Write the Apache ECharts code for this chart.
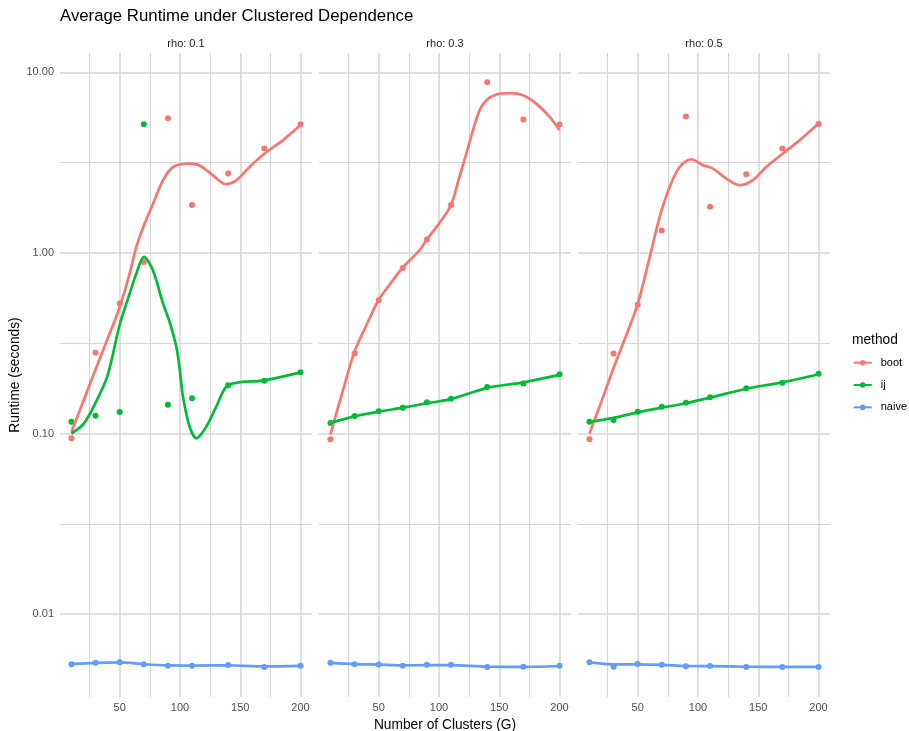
<!DOCTYPE html>
<html>
<head>
<meta charset="utf-8">
<script src="https://cdn.jsdelivr.net/npm/echarts@6/dist/echarts.min.js"></script>
<style>
html,body{margin:0;padding:0;background:#fff;}
#chart{width:909px;height:731px;}
</style>
</head>
<body>
<div id="chart"></div>
<script>
// ---------- data ----------
const clusters = [10, 30, 50, 70, 90, 110, 140, 170, 200];
const rhoLabels = ['rho: 0.1', 'rho: 0.3', 'rho: 0.5'];
const methods = ['boot', 'ij', 'naive'];
const yMajorTicks = [0.01, 0.1, 1, 10];
const yMinorTicks = [0.0316227766, 0.316227766, 3.16227766];
const xMajorTicks = [50, 100, 150, 200];
const xMinorTicks = [25, 75, 125, 175];

// observed mean runtimes (seconds)
const boot01  = [0.094, 0.281, 0.525, 0.89, 5.56, 1.84, 2.75, 3.78, 5.15];
const ij01    = [0.116, 0.1255, 0.1315, 5.15, 0.1444, 0.1567, 0.185, 0.196, 0.218];
const naive01 = [0.00528, 0.00538, 0.00541, 0.00527, 0.00518, 0.00518, 0.00522, 0.00509, 0.00518];
const boot03  = [0.093, 0.277, 0.547, 0.826, 1.186, 1.84, 8.8, 5.47, 5.14];
const ij03    = [0.1145, 0.1248, 0.133, 0.139, 0.149, 0.1556, 0.181, 0.189, 0.213];
const naive03 = [0.00538, 0.00528, 0.00526, 0.00518, 0.00524, 0.00524, 0.00509, 0.00511, 0.00518];
const boot05  = [0.093, 0.277, 0.517, 1.33, 5.69, 1.80, 2.73, 3.79, 5.18];
const ij05    = [0.116, 0.1186, 0.132, 0.1406, 0.148, 0.159, 0.178, 0.191, 0.214];
const naive05 = [0.00542, 0.00511, 0.0053, 0.00524, 0.00515, 0.00516, 0.00509, 0.00509, 0.00509];

// smoothed (loess) curves
const bootFit01G = [10, 20, 30, 40, 50, 58.3, 63.8, 70.1, 77.6, 85.9, 94.2, 108, 116.3, 127.3, 137.8, 146.7, 157.7, 170.2, 185.3, 200];
const bootFit01  = [0.102, 0.152, 0.226, 0.335, 0.50, 0.77, 1.08, 1.42, 1.87, 2.52, 2.99, 3.12, 3.05, 2.69, 2.40, 2.52, 2.99, 3.55, 4.2, 5.1];
const ijFit01G   = [10, 20, 30, 40, 50, 58.3, 63.8, 70.1, 77.6, 85.9, 91.4, 97, 99.7, 102.5, 108, 113.6, 121.8, 130.1, 140, 170, 200];
const ijFit01    = [0.100, 0.113, 0.148, 0.21, 0.40, 0.596, 0.769, 0.95, 0.80, 0.525, 0.415, 0.301, 0.229, 0.160, 0.109, 0.094, 0.109, 0.141, 0.185, 0.197, 0.218];
const naiveFit01 = [0.00528, 0.00537, 0.0054, 0.00528, 0.0052, 0.00519, 0.00521, 0.00513, 0.00517];

const bootFit03G = [10, 20, 30, 40, 50, 60, 70, 84, 90, 100, 110, 117, 122.7, 128.2, 133.7, 139.3, 147.5, 158.6, 169.6, 180.7, 191.8, 200];
const bootFit03  = [0.099, 0.17, 0.285, 0.40, 0.55, 0.68, 0.83, 1.035, 1.19, 1.45, 1.84, 2.64, 3.55, 4.78, 6.16, 7.0, 7.53, 7.67, 7.46, 6.71, 5.66, 4.78];
const ijFit03    = [0.1145, 0.1245, 0.132, 0.139, 0.147, 0.155, 0.179, 0.192, 0.212];
const naiveFit03 = [0.00537, 0.00529, 0.00525, 0.0052, 0.00522, 0.00522, 0.00511, 0.0051, 0.00516];

const bootFit05G = [10, 20, 29.5, 40, 50, 60, 68.2, 76.5, 84.8, 94.5, 104.2, 112.4, 123.5, 134.5, 145.5, 156.6, 170.4, 184.2, 200];
const bootFit05  = [0.10, 0.151, 0.226, 0.343, 0.52, 0.95, 1.58, 2.32, 2.99, 3.30, 3.06, 2.93, 2.58, 2.37, 2.53, 2.99, 3.55, 4.2, 5.2];
const ijFit05    = [0.116, 0.122, 0.131, 0.139, 0.147, 0.158, 0.177, 0.192, 0.213];
const naiveFit05 = [0.0054, 0.00527, 0.00527, 0.00524, 0.00516, 0.00515, 0.00511, 0.0051, 0.0051];

// ---------- layout / style ----------
const FONT = "'Liberation Sans', Arial, Helvetica, sans-serif";
const COLORS = {boot: '#F8766D', ij: '#00BA38', naive: '#619CFF'};
const Y_MIN = 0.003475, Y_MAX = 12.79, X_MIN = 0.5, X_MAX = 209.5;
const PANEL_LEFT = [60, 319, 578];
const PANEL_W = 252, PANEL_TOP = 53, PANEL_H = 644;
const MAJOR_GRID = {color: '#d5d5d5', width: 1.5};
const MINOR_GRID = {color: '#d5d5d5', width: 1};

const panels = [
  {boot: boot01, ij: ij01, naive: naive01,
   fits: {boot: [bootFit01G, bootFit01], ij: [ijFit01G, ijFit01], naive: [clusters, naiveFit01]}},
  {boot: boot03, ij: ij03, naive: naive03,
   fits: {boot: [bootFit03G, bootFit03], ij: [clusters, ijFit03], naive: [clusters, naiveFit03]}},
  {boot: boot05, ij: ij05, naive: naive05,
   fits: {boot: [bootFit05G, bootFit05], ij: [clusters, ijFit05], naive: [clusters, naiveFit05]}}
];

const grids = PANEL_LEFT.map(l => ({left: l, top: PANEL_TOP, width: PANEL_W, height: PANEL_H,
  containLabel: false, outerBoundsMode: 'none'}));

const xAxes = [];
const yAxes = [];
// major axes (index 0..2)
for (let i = 0; i < 3; i++) {
  xAxes.push({
    type: 'value', gridIndex: i, min: X_MIN, max: X_MAX, position: 'bottom',
    axisLine: {show: false}, axisTick: {show: false, customValues: xMajorTicks},
    axisLabel: {show: true, customValues: xMajorTicks, color: '#4d4d4d', fontSize: 11, fontFamily: FONT, margin: 5},
    splitLine: {show: true, lineStyle: MAJOR_GRID},
    name: i === 1 ? 'Number of Clusters (G)' : '', nameLocation: 'middle', nameGap: 16,
    nameTextStyle: {color: '#000', fontSize: 13.75, fontFamily: FONT}
  });
  yAxes.push({
    type: 'log', logBase: 10, gridIndex: i, min: Y_MIN, max: Y_MAX,
    axisLine: {show: false}, axisTick: {show: false, customValues: yMajorTicks},
    axisLabel: {show: i === 0, customValues: yMajorTicks, color: '#4d4d4d', fontSize: 11, fontFamily: FONT, margin: 6,
      formatter: v => Number(v).toFixed(2)},
    splitLine: {show: true, lineStyle: MAJOR_GRID},
    name: i === 0 ? 'Runtime (seconds)' : '', nameLocation: 'middle', nameGap: 34,
    nameTextStyle: {color: '#000', fontSize: 13.75, fontFamily: FONT}
  });
}
// minor axes (index 3..5), only for minor grid lines
for (let i = 0; i < 3; i++) {
  xAxes.push({
    type: 'value', gridIndex: i, min: X_MIN, max: X_MAX, position: 'bottom',
    axisLine: {show: false}, axisTick: {show: false, customValues: xMinorTicks},
    axisLabel: {show: false, customValues: xMinorTicks},
    splitLine: {show: true, lineStyle: MINOR_GRID}
  });
  yAxes.push({
    type: 'log', logBase: 10, gridIndex: i, min: Y_MIN, max: Y_MAX, position: 'left',
    axisLine: {show: false}, axisTick: {show: false, customValues: yMinorTicks},
    axisLabel: {show: false, customValues: yMinorTicks},
    splitLine: {show: true, lineStyle: MINOR_GRID}
  });
}

const series = [];
panels.forEach((p, i) => {
  methods.forEach(m => {
    const [gx, gy] = p.fits[m];
    series.push({
      type: 'line', name: m, xAxisIndex: i, yAxisIndex: i,
      data: gx.map((g, k) => [g, gy[k]]),
      smooth: 0.3, showSymbol: false, symbol: 'circle', symbolSize: 6,
      lineStyle: {color: COLORS[m], width: 2.7}, itemStyle: {color: COLORS[m]},
      z: 3
    });
  });
});
panels.forEach((p, i) => {
  methods.forEach(m => {
    series.push({
      type: 'scatter', name: m, xAxisIndex: i, yAxisIndex: i,
      data: clusters.map((g, k) => [g, p[m][k]]),
      symbol: 'circle', symbolSize: 6,
      itemStyle: {color: COLORS[m], opacity: 1},
      z: 2
    });
  });
});

const titles = [
  {text: 'Average Runtime under Clustered Dependence', left: 60, top: 8, padding: 0,
   textStyle: {fontSize: 16.8, fontWeight: 'normal', color: '#000', fontFamily: FONT}},
  {text: 'method', left: 852, top: 333, padding: 0,
   textStyle: {fontSize: 13.75, fontWeight: 'normal', color: '#000', fontFamily: FONT}}
];
rhoLabels.forEach((t, i) => {
  titles.push({text: t, left: PANEL_LEFT[i] + PANEL_W / 2, top: 38, padding: 0, textAlign: 'center',
    textStyle: {fontSize: 11, fontWeight: 'normal', color: '#1a1a1a', fontFamily: FONT}});
});

const chart = echarts.init(document.getElementById('chart'), null, {renderer: 'canvas'});
chart.setOption({
  backgroundColor: '#ffffff',
  animation: false,
  title: titles,
  grid: grids,
  xAxis: xAxes,
  yAxis: yAxes,
  legend: {
    data: methods, orient: 'vertical', left: 852.7, top: 355.7, padding: 0,
    itemWidth: 18, itemHeight: 7, itemGap: 8.3,
    textStyle: {fontSize: 11, color: '#000', fontFamily: FONT, lineHeight: 14, padding: [0, 0, 0, 4]}
  },
  series: series
});
</script>
</body>
</html>
